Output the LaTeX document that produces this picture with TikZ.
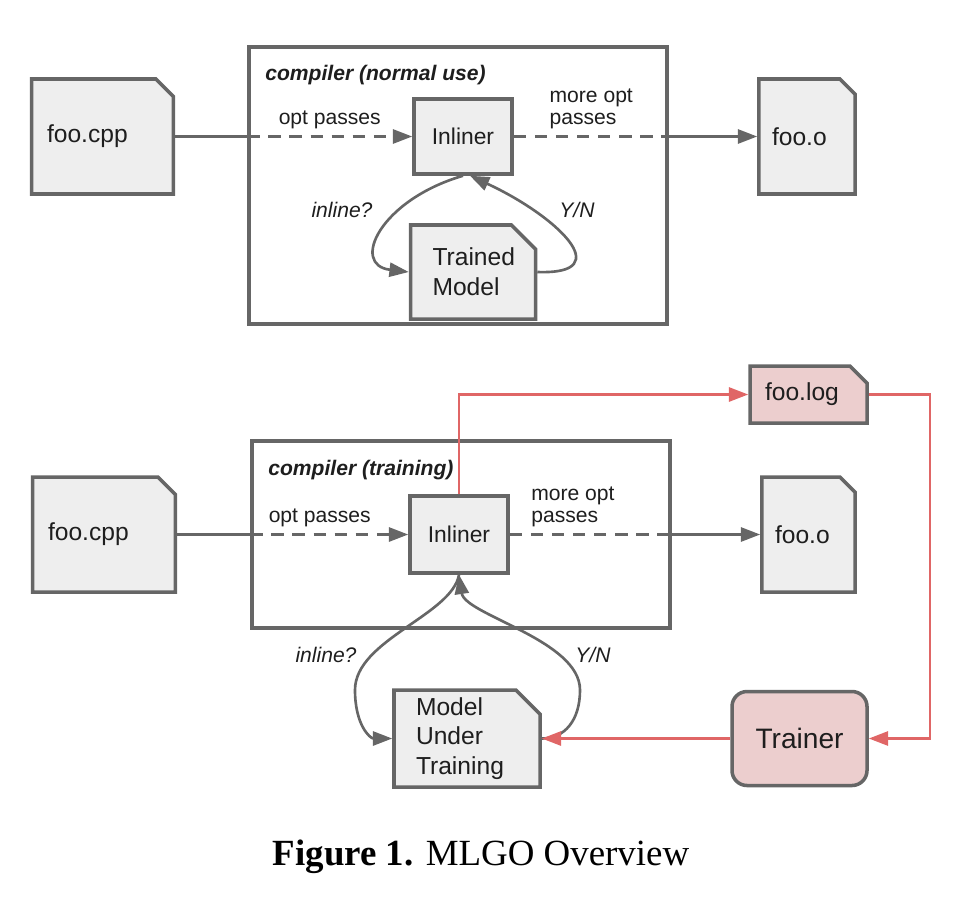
\documentclass[tikz,border=0pt]{standalone}
\usepackage{fontspec}
\setmainfont{Liberation Sans}
\newfontfamily\capfont{Liberation Serif}
\usetikzlibrary{shapes.misc, arrows.meta, positioning}
\definecolor{mygrey}{RGB}{238,238,238}
\definecolor{myline}{RGB}{102,102,102}
\definecolor{myred}{RGB}{224,102,102}
\definecolor{hdrred}{RGB}{236,206,206}
\definecolor{mytext}{RGB}{30,30,30}
\tikzset{
  doc/.style={chamfered rectangle, chamfered rectangle corners=north east,
    chamfered rectangle xsep=0.36cm, draw=myline, fill=mygrey,
    line width=2pt, align=left, inner xsep=0.08cm, inner ysep=0pt,
    font=\fontsize{14}{17}\selectfont, text=mytext},
  reddoc/.style={doc, fill=hdrred, chamfered rectangle xsep=0.22cm},
  block/.style={rectangle, draw=myline, fill=mygrey, line width=2pt,
    minimum width=1.96cm, font=\fontsize{13}{16}\selectfont, text=mytext},
  compbox/.style={rectangle, draw=myline, line width=2pt, minimum width=8.36cm},
  arrow/.style={-{Triangle[length=11pt,width=8pt]}, line width=1.5pt, color=myline},
  line/.style={draw, line width=1.5pt, color=myline},
  dashline/.style={line, dash pattern=on 7pt off 5pt},
  dasharrow/.style={arrow, dash pattern=on 7pt off 5pt},
  redarrow/.style={-{Triangle[length=11pt,width=8pt]}, line width=1.5pt, color=myred},
  lbl/.style={font=\fontsize{12}{13}\selectfont, text=mytext},
  ilbl/.style={lbl, font=\fontsize{12}{13}\selectfont\itshape},
  title/.style={lbl, font=\fontsize{12}{13}\selectfont\bfseries\itshape, anchor=west, inner sep=0pt}
}
\begin{document}
\begin{tikzpicture}
  \useasboundingbox (0,0) rectangle (19.52,-18.24);

  % Compiler (normal use)
  \node[compbox, minimum height=5.54cm] (comp1) at (9.16,-3.71) {};
  \node[title] (title1) at (5.30,-1.50) {compiler (normal use)};
  \node[doc, text width=2.22cm, minimum height=2.30cm] (cpp1) at (2.05,-2.73) {foo.cpp};
  \node[block, minimum height=1.50cm] (inl1) at (9.26,-2.73) {Inliner};
  \node[doc, text width=1.62cm, minimum height=1.88cm] (model1) at (9.46,-5.44) {Trained\\Model};
  \node[doc, text width=1.40cm, minimum height=2.30cm] (obj1) at (16.14,-2.73) {foo.o};

  \draw[line] (cpp1.east) -- (cpp1.east -| comp1.west);
  \draw[dasharrow] (cpp1.east -| comp1.west) -- node[lbl, above] {opt passes} (inl1.west);
  \draw[dashline] (inl1.east) -- node[lbl, above, align=left] {more opt\\passes} (inl1.east -| comp1.east);
  \draw[arrow] (inl1.east -| comp1.east) -- (obj1.west);

  \draw[arrow] (inl1.south) .. controls (7.60,-4.00) and (7.00,-5.30) .. (model1.west);
  \draw[arrow] (model1.east) .. controls (12.40,-5.50) and (11.10,-4.30) .. ([xshift=0.14cm]inl1.south);
  \node[ilbl] (ask1) at (6.84,-4.20) {inline?};
  \node[ilbl] (yn1) at (11.54,-4.20) {Y/N};

  % Compiler (training)
  \node[compbox, minimum height=3.74cm] (comp2) at (9.22,-10.69) {};
  \node[title] (title2) at (5.36,-9.40) {compiler (training)};
  \node[doc, text width=2.24cm, minimum height=2.30cm] (cpp2) at (2.08,-10.69) {foo.cpp};
  \node[block, minimum height=1.54cm] (inl2) at (9.18,-10.69) {Inliner};
  \node[doc, text width=2.04cm, minimum height=1.94cm] (model2) at (9.34,-14.77) {Model\\Under\\Training};
  \node[doc, text width=1.34cm, minimum height=2.30cm] (obj2) at (16.17,-10.69) {foo.o};
  \node[reddoc, text width=1.74cm, minimum height=1.14cm] (log) at (16.17,-7.89) {foo.log};
  \node[rectangle, draw=myline, fill=hdrred, line width=2pt, rounded corners=0.3cm,
    minimum width=2.70cm, minimum height=1.88cm, font=\fontsize{16}{19}\selectfont, text=mytext] (trainer) at (15.99,-14.77) {Trainer};
  \coordinate (rt) at (18.60,-7.89);

  \draw[line] (cpp2.east) -- (cpp2.east -| comp2.west);
  \draw[dasharrow] (cpp2.east -| comp2.west) -- node[lbl, above, pos=0.44] {opt passes} (inl2.west);
  \draw[dashline] (inl2.east) -- node[lbl, above, align=left, pos=0.39] {more opt\\passes} (inl2.east -| comp2.east);
  \draw[arrow] (inl2.east -| comp2.east) -- (obj2.west);

  \draw[arrow] (inl2.south) .. controls (9.04,-12.30) and (7.10,-12.80) .. (7.10,-13.80)
    .. controls (7.10,-14.50) and (7.40,-14.77) .. (model2.west);
  \draw[arrow] (model2.east) .. controls (11.30,-14.77) and (11.60,-14.40) .. (11.60,-13.80)
    .. controls (11.60,-12.80) and (9.30,-12.30) .. (inl2.south);
  \node[ilbl] (ask2) at (6.52,-13.10) {inline?};
  \node[ilbl] (yn2) at (11.86,-13.10) {Y/N};

  % Training loop
  \draw[redarrow] (inl2.north) |- (log.west);
  \draw[redarrow] (log.east) -- (rt) |- (trainer.east);
  \draw[redarrow] (trainer.west) -- (model2.east);

  % Caption
  \node[font=\capfont\fontsize{21}{24}\selectfont, text=black] (cap) at (9.62,-17.14) {\textbf{Figure 1.} MLGO Overview};
\end{tikzpicture}
\end{document}
